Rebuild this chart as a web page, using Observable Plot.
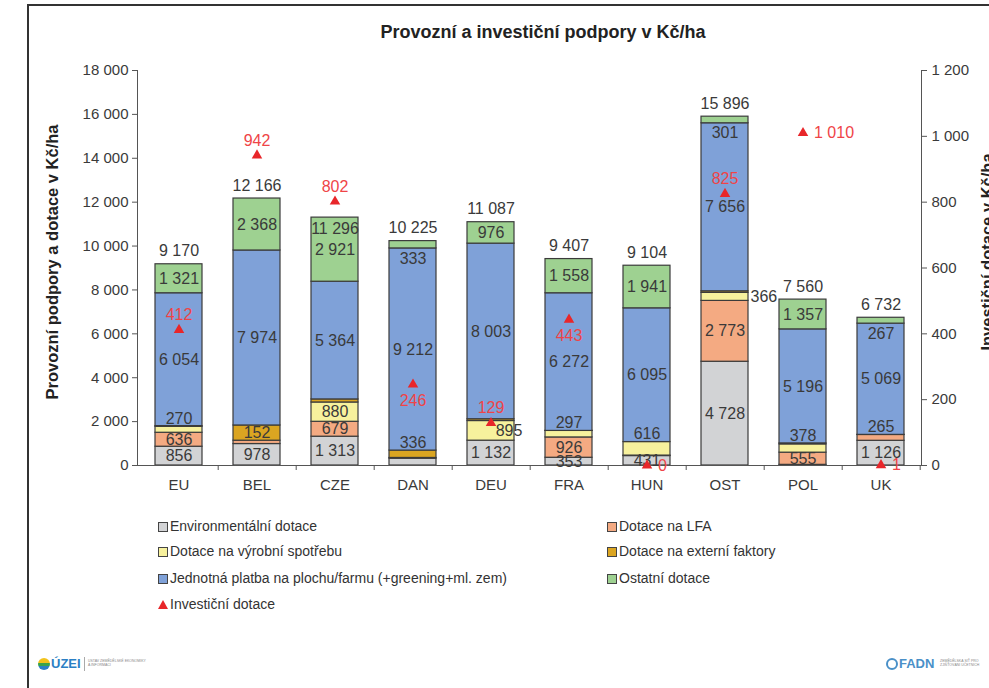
<!DOCTYPE html>
<html>
<head>
<meta charset="utf-8">
<script src="https://cdn.jsdelivr.net/npm/d3@7"></script>
<script src="https://cdn.jsdelivr.net/npm/@observablehq/plot@0.6"></script>
<style>
  html, body { margin: 0; padding: 0; background: #fff; overflow: hidden; }
  #wrap { position: relative; width: 989px; height: 688px; font-family: "Liberation Sans", Arial, sans-serif; color: #3a3a3a; }
  #frame { position: absolute; left: 27px; top: 4px; width: 980px; height: 700px; border-left: 2.5px solid #333; border-top: 2.5px solid #333; }
  #title { position: absolute; left: 293px; width: 500px; top: 22px; text-align: center; font-size: 18px; font-weight: bold; color: #222; }
  #chart { position: absolute; left: 0; top: 0; }
  .lg { position: absolute; font-size: 14px; line-height: 18px; color: #333; white-space: nowrap; }
  .sq { position: absolute; width: 8px; height: 8px; border: 1px solid #444; }
  .tri { position: absolute; width: 0; height: 0; border-left: 5px solid transparent; border-right: 5px solid transparent; border-bottom: 9px solid #e8262a; }
  .logo { position: absolute; font-weight: bold; font-size: 13px; white-space: nowrap; }
  .tiny { position: absolute; font-size: 3.5px; line-height: 4px; color: #888; white-space: nowrap; }
</style>
</head>
<body>
<div id="wrap">
  <div id="frame"></div>
  <div id="chart"></div>
  <div id="title">Provozní a investiční podpory v Kč/ha</div>
  <div id="legend"></div>
  <div id="logos">
    <div style="position:absolute;left:38px;top:658px;width:12px;height:12px;border-radius:50%;background:linear-gradient(#f2c21b 0 45%, #3aa34a 45% 70%, #2b7fc4 70%);"></div>
    <div class="logo" style="left:51px;top:656px;color:#2b7fc4;">ÚZEI</div>
    <div style="position:absolute;left:84px;top:657px;width:1px;height:14px;background:#aaa;"></div>
    <div class="tiny" style="left:88px;top:659px;">ÚSTAV ZEMĚDĚLSKÉ EKONOMIKY<br>A INFORMACÍ</div>
    <div style="position:absolute;left:886px;top:658px;width:12px;height:12px;border-radius:50%;border:2px solid #4a90c8;box-sizing:border-box;"></div>
    <div class="logo" style="left:899px;top:656px;color:#4a90c8;">FADN</div>
    <div class="tiny" style="left:940px;top:659px;">ZEMĚDĚLSKÁ SÍŤ PRO<br>ZJIŠŤOVÁNÍ ÚČETNÍCH</div>
  </div>
</div>
<script>
// ---------------- data ----------------
const countries = ["EU", "BEL", "CZE", "DAN", "DEU", "FRA", "HUN", "OST", "POL", "UK"];
const layers = [
  "Environmentální dotace",
  "Dotace na LFA",
  "Dotace na výrobní spotřebu",
  "Dotace na externí faktory",
  "Jednotná platba na plochu/farmu (+greening+ml. zem)",
  "Ostatní dotace"
];
const environmentalni = [856, 978, 1313, 310, 1132, 353, 431, 4728, 30, 1126];
const lfa             = [636, 152, 679, 34, 0, 926, 21, 2773, 555, 265];
const vyrobni         = [270, 0, 880, 0, 895, 297, 616, 366, 378, 0];
const externi         = [33, 694, 139, 336, 81, 1, 0, 72, 44, 5];
const jednotna        = [6054, 7974, 5364, 9212, 8003, 6272, 6095, 7656, 5196, 5069];
const ostatni         = [1321, 2368, 2921, 333, 976, 1558, 1941, 301, 1357, 267];
const investicni      = [412, 942, 802, 246, 129, 443, 0, 825, 1010, 1];
const investicniName  = "Investiční dotace";
const leftTicks  = [0, 2000, 4000, 6000, 8000, 10000, 12000, 14000, 16000, 18000];
const rightTicks = [0, 200, 400, 600, 800, 1000, 1200];
// segments whose values are not printed in the original
const unlabeled = [["BEL", 3], ["CZE", 3], ["DAN", 0]];
// side on which the investment value is printed
const investSide = ["above", "above", "above", "below", "above", "below", "right", "above", "right", "right"];

const layerColors = ["#d2d3d5", "#f4aa82", "#f7f19d", "#dba521", "#7fa1d8", "#9ed191"];
const invColor = "#e8262a", invTextColor = "#ef4447";

// ---------------- derived tables ----------------
const series = [environmentalni, lfa, vyrobni, externi, jednotna, ostatni];
const ratio = d3.max(leftTicks) / d3.max(rightTicks);
const loc = d3.formatLocale({decimal: ",", thousands: " ", grouping: [3], currency: ["", ""]});
const fmt = loc.format(",d");

const rows = countries.flatMap((c, i) => layers.map((l, k) => ({country: c, layer: l, value: series[k][i]})));
const totals = countries.map((c, i) => ({country: c, total: d3.sum(series, s => s[i]), inv: investicni[i]}));

const segLabels = [];
countries.forEach((c, i) => {
  let base = 0;
  series.forEach((s, k) => {
    const v = s[i], top = base + v;
    const hidden = unlabeled.some(([cc, kk]) => cc === c && kk === k);
    if (v >= 100 && !hidden) {
      let place = "center";
      if ((k === 1 && v < 300) || ((k === 2 || k === 3) && v < 700)) place = "above";
      if (k === 5 && v < 400) place = "below";
      if (place === "above" && k === 2 && series[1][i] > 2000) place = "outside";
      let y = place === "above" ? top : place === "below" ? base : base + v / 2;
      if (place === "center" && k > 0 && k < 4 && Math.abs(investicni[i] * ratio - y) < 500) place = "shift";
      segLabels.push({country: c, y, text: fmt(v), place});
    }
    base = top;
  });
});
const nearTop = d => d.inv * ratio > d.total && d.inv * ratio - d.total < 1500;
const totalsAbove = totals.filter(d => !nearTop(d));
const totalsInside = totals.filter(nearTop);
const inv = countries.map((c, i) => ({country: c, v: investicni[i], y: investicni[i] * ratio, side: investSide[i]}));

// ---------------- layout ----------------
const W = 989, H = 510, mL = 137, mR = 68, mT = 70, mB = 45;
const pIn = 0.4, pOut = 0.2;
const step = (W - mL - mR) / (countries.length - pIn + 2 * pOut);
const font = "'Liberation Sans', Arial, sans-serif";
const txt = "#3a3a3a";

const chart = Plot.plot({
  width: W, height: H,
  marginLeft: mL, marginRight: mR, marginTop: mT, marginBottom: mB,
  style: {fontFamily: font, color: txt, background: "transparent", overflow: "visible"},
  x: {type: "band", domain: countries, paddingInner: pIn, paddingOuter: pOut, label: null},
  y: {domain: [0, d3.max(leftTicks)], label: null},
  color: {domain: layers, range: layerColors},
  marks: [
    Plot.barY(rows, {x: "country", y: "value", fill: "layer", stroke: "#3b3b3b", strokeWidth: 1.2}),
    Plot.frame({anchor: "left", stroke: "#555"}),
    Plot.frame({anchor: "right", stroke: "#555"}),
    Plot.ruleY([0], {stroke: "#555"}),
    Plot.axisY({anchor: "left", ticks: leftTicks, tickFormat: fmt, tickSize: 5, tickPadding: 4, fontSize: 15, label: null, stroke: "#555"}),
    Plot.axisY({anchor: "right", ticks: rightTicks.map(t => t * ratio), tickFormat: d => fmt(d / ratio), tickSize: 5, tickPadding: 5, fontSize: 15, label: null, stroke: "#555"}),
    Plot.axisX({anchor: "bottom", tickSize: 0, tickPadding: 14, fontSize: 15, label: null}),
    Plot.axisX({anchor: "bottom", tickSize: 5, tickFormat: () => "", dx: step / 2, label: null, stroke: "#555"}),
    // segment labels
    Plot.text(segLabels.filter(d => d.place === "center"), {x: "country", y: "y", text: "text", fontSize: 16, fill: txt}),
    Plot.text(segLabels.filter(d => d.place === "above"), {x: "country", y: "y", text: "text", fontSize: 16, fill: txt, dy: -8}),
    Plot.text(segLabels.filter(d => d.place === "below"), {x: "country", y: "y", text: "text", fontSize: 16, fill: txt, dy: 10}),
    Plot.text(segLabels.filter(d => d.place === "shift"), {x: "country", y: "y", text: "text", fontSize: 16, fill: txt, dx: 18}),
    Plot.text(segLabels.filter(d => d.place === "outside"), {x: "country", y: "y", text: "text", fontSize: 16, fill: txt, textAnchor: "start", dx: step * (1 - pIn) / 2 + 2}),
    // totals
    Plot.text(totalsAbove, {x: "country", y: "total", text: d => fmt(d.total), fontSize: 16, fill: txt, dy: -13}),
    Plot.text(totalsInside, {x: "country", y: "total", text: d => fmt(d.total), fontSize: 16, fill: txt, dy: 11}),
    // investment
    Plot.dot(inv, {x: "country", y: "y", symbol: "triangle", r: 3.9, fill: invColor, stroke: null}),
    Plot.text(inv.filter(d => d.side === "above"), {x: "country", y: "y", text: d => fmt(d.v), fontSize: 16, fill: invTextColor, dy: -15}),
    Plot.text(inv.filter(d => d.side === "below"), {x: "country", y: "y", text: d => fmt(d.v), fontSize: 16, fill: invTextColor, dy: 16}),
    Plot.text(inv.filter(d => d.side === "right"), {x: "country", y: "y", text: d => fmt(d.v), fontSize: 16, fill: invTextColor, dx: 11, textAnchor: "start"}),
    // axis titles
    Plot.text(["Provozní podpory a dotace v Kč/ha"], {frameAnchor: "left", text: d => d, rotate: -90, textAnchor: "middle", dx: -85, dy: -6, fontSize: 16.5, fontWeight: "bold", fill: "#222"}),
    Plot.text(["Investiční dotace v Kč/ha"], {frameAnchor: "right", text: d => d, rotate: -90, textAnchor: "middle", dx: 66, dy: -16, fontSize: 16.5, fontWeight: "bold", fill: "#222"})
  ]
});
document.getElementById("chart").appendChild(chart);

// ---------------- legend ----------------
const legend = document.getElementById("legend");
const rowTops = [517, 542, 569];
layers.forEach((l, k) => {
  const col = k % 2, row = Math.floor(k / 2);
  const left = col === 0 ? 158 : 607;
  const sq = document.createElement("div");
  sq.className = "sq";
  sq.style.left = left + "px";
  sq.style.top = (rowTops[row] + 5) + "px";
  sq.style.background = layerColors[k];
  legend.appendChild(sq);
  const t = document.createElement("div");
  t.className = "lg";
  t.style.left = (left + 12) + "px";
  t.style.top = rowTops[row] + "px";
  t.textContent = l;
  legend.appendChild(t);
});
const tri = document.createElement("div");
tri.className = "tri";
tri.style.left = "158px"; tri.style.top = "600px";
legend.appendChild(tri);
const tt = document.createElement("div");
tt.className = "lg";
tt.style.left = "170px"; tt.style.top = "595px";
tt.textContent = investicniName;
legend.appendChild(tt);
</script>
</body>
</html>
